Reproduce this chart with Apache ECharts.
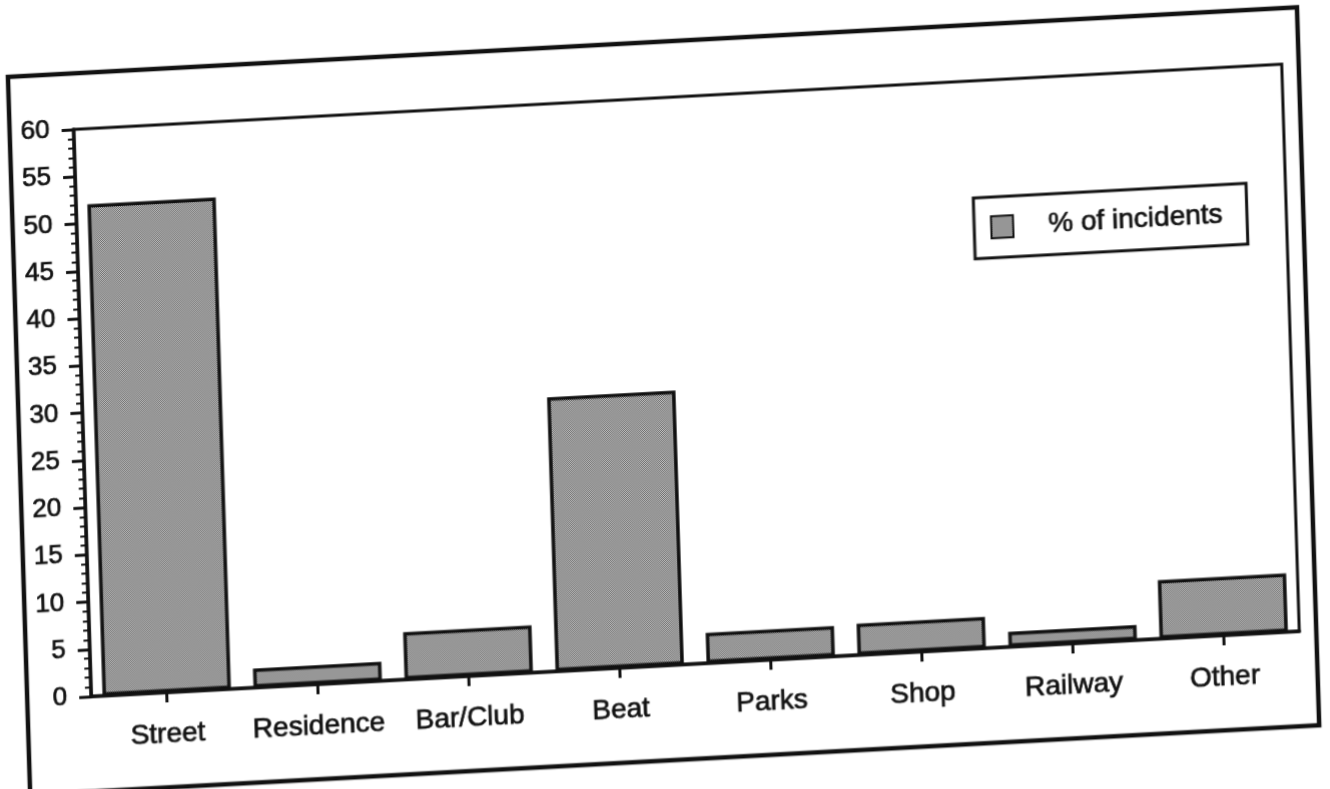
<!DOCTYPE html>
<html>
<head>
<meta charset="utf-8">
<script src="https://cdn.jsdelivr.net/npm/echarts@6/dist/echarts.min.js"></script>
<style>
  html, body { margin: 0; padding: 0; background: #ffffff; overflow: hidden; }
  #chart {
    width: 1330px; height: 789px; background: #ffffff;
    transform: matrix(1, -0.054, 0.031, 1, 0, 0);
    transform-origin: 665px 400px;
  }
</style>
</head>
<body>
<div id="chart"></div>
<script>
// ---- data ----
const categories = ['Street', 'Residence', 'Bar/Club', 'Beat', 'Parks', 'Shop', 'Railway', 'Other'];
const percentOfIncidents = [52, 2, 5, 29, 3.2, 3.3, 1.6, 6.2];
const seriesName = '% of incidents';
const yMin = 0;
const yMax = 60;
const yStep = 5;

// stipple fill similar to the printed halftone
function makePattern() {
  const c = document.createElement('canvas');
  c.width = 4; c.height = 4;
  const g = c.getContext('2d');
  g.fillStyle = '#f2f2f2';
  g.fillRect(0, 0, 4, 4);
  g.fillStyle = '#3c3c3c';
  for (let y = 0; y < 4; y++) {
    for (let x = 0; x < 4; x++) {
      if ((x + y) % 2 === 0) g.fillRect(x, y, 1, 1);
    }
  }
  return c;
}

const font = "'Liberation Sans', Arial, Helvetica, sans-serif";
const ink = '#111111';
const heavy = { textBorderColor: ink, textBorderWidth: 0.7 };
const chart = echarts.init(document.getElementById('chart'), null, { renderer: 'canvas' });

chart.setOption({
  backgroundColor: '#ffffff',
  animation: false,
  textStyle: { fontFamily: font, color: ink },
  grid: {
    left: 83, right: 39, top: 98, bottom: 124,
    outerBoundsMode: 'none',
    show: true, borderColor: ink, borderWidth: 3, backgroundColor: 'transparent'
  },
  legend: {
    data: [{ name: seriesName, icon: 'rect' }],
    left: 979, top: 215,
    orient: 'horizontal',
    padding: [16, 24, 16, 16],
    borderColor: ink, borderWidth: 3, backgroundColor: '#ffffff',
    itemWidth: 22, itemHeight: 22,
    selectedMode: false,
    textStyle: Object.assign({ fontFamily: font, fontSize: 28, color: ink, padding: [0, 0, 0, 30] }, heavy)
  },
  xAxis: {
    type: 'category',
    data: categories,
    axisLine: { show: true, lineStyle: { color: ink, width: 3.5 } },
    axisTick: { show: true, alignWithLabel: true, length: 10, lineStyle: { color: ink, width: 3 } },
    axisLabel: Object.assign({ interval: 0, hideOverlap: false, fontFamily: font, fontSize: 28, color: ink, margin: 28 }, heavy),
    splitLine: { show: false }
  },
  yAxis: {
    type: 'value',
    min: yMin, max: yMax, interval: yStep,
    axisLine: { show: true, lineStyle: { color: ink, width: 3.5 } },
    axisTick: { show: true, inside: false, length: 12, lineStyle: { color: ink, width: 3 } },
    minorTick: { show: true, splitNumber: 5, length: 6, lineStyle: { color: ink, width: 2 } },
    axisLabel: Object.assign({ fontFamily: font, fontSize: 26, color: ink, margin: 24 }, heavy),
    splitLine: { show: false },
    minorSplitLine: { show: false }
  },
  series: [{
    name: seriesName,
    type: 'bar',
    data: percentOfIncidents,
    barWidth: '85%',
    itemStyle: {
      color: { image: makePattern(), repeat: 'repeat' },
      borderColor: ink,
      borderWidth: 3.5
    },
    emphasis: { disabled: true }
  }],
  graphic: [{
    type: 'rect',
    silent: true,
    shape: { x: 19, y: 42, width: 1289, height: 718 },
    style: { fill: 'none', stroke: ink, lineWidth: 4.5 }
  }]
});
</script>
</body>
</html>
